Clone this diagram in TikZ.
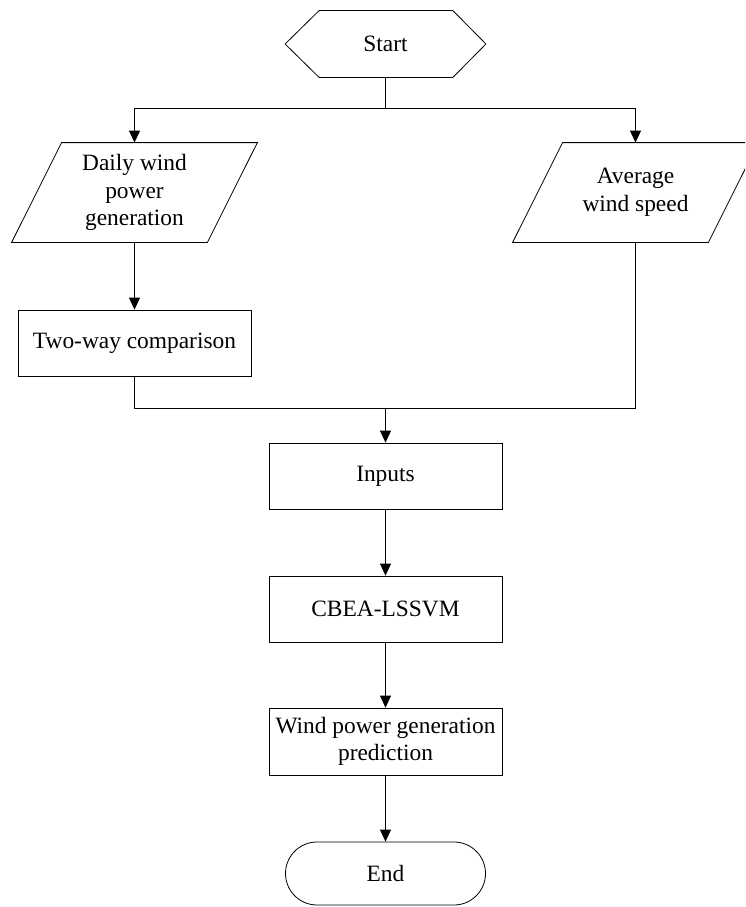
\documentclass[tikz,border=0pt]{standalone}
\usepackage{fontspec}
\setmainfont{Liberation Serif}
\usetikzlibrary{arrows.meta,calc}
\begin{document}
\begin{tikzpicture}[x=1pt,y=-1pt,
  line width=0.8pt,
  txt/.style={font=\fontsize{23.4}{27.7}\selectfont, align=center, inner sep=0pt},
  procbox/.style={txt, draw, rectangle, minimum width=233pt, minimum height=66pt},
  ghost/.style={txt, rectangle, minimum width=245pt, minimum height=99pt},
  arr/.style={-{Triangle[width=11pt,length=12pt]}},
]
\clip (0,0) rectangle (745,907);
\fill[white] (0,0) rectangle (745,907);

% Start hexagon
\node[txt, minimum width=200pt, minimum height=66pt] (start) at (385.5,44) {Start};
\draw (start.west) -- ($(start.north west)+(34,0)$) -- ($(start.north east)+(-33,0)$)
  -- (start.east) -- ($(start.south east)+(-33,0)$) -- ($(start.south west)+(34,0)$) -- cycle;

% Parallelograms
\node[ghost] (p1) at (134.5,192.5) {Daily wind\\power\\generation};
\draw ($(p1.north west)+(50,0)$) -- (p1.north east) -- ($(p1.south east)+(-50,0)$)
  -- (p1.south west) -- cycle;
\node[ghost] (p2) at (635.5,192.5) {Average\\wind speed};
\draw ($(p2.north west)+(50,0)$) -- (p2.north east) -- ($(p2.south east)+(-50,0)$)
  -- (p2.south west) -- cycle;

% Boxes
\node[procbox] (cmp) at (134.5,343) {Two-way comparison};
\node[procbox] (inp) at (385.5,476) {Inputs};
\node[procbox] (cbea) at (385.5,609) {CBEA-LSSVM};
\node[procbox, minimum height=67pt] (pred) at (385.5,741.5) {Wind power generation\\prediction};
\node[txt, draw, rectangle, rounded corners=31.5pt, minimum width=200pt, minimum height=63pt] (endn) at (385.5,873.5) {End};

% Junctions
\coordinate (j1) at (start.south |- 0,108);
\coordinate (jl) at (p1.north |- 0,108);
\coordinate (jr) at (p2.north |- 0,108);
\coordinate (kl) at (cmp.south |- 0,408);
\coordinate (kr) at (p2.south |- 0,408);
\coordinate (k1) at (inp.north |- 0,408);

% Connectors
\draw (start.south) -- (j1);
\draw (jl) -- (jr);
\draw[arr] (jl) -- (p1.north);
\draw[arr] (jr) -- (p2.north);
\draw[arr] (p1.south) -- (cmp.north);
\draw (cmp.south) -- (kl) -- (kr) -- (p2.south);
\draw[arr] (k1) -- (inp.north);
\draw[arr] (inp.south) -- (cbea.north);
\draw[arr] (cbea.south) -- (pred.north);
\draw[arr] (pred.south) -- (endn.north);
\end{tikzpicture}
\end{document}
